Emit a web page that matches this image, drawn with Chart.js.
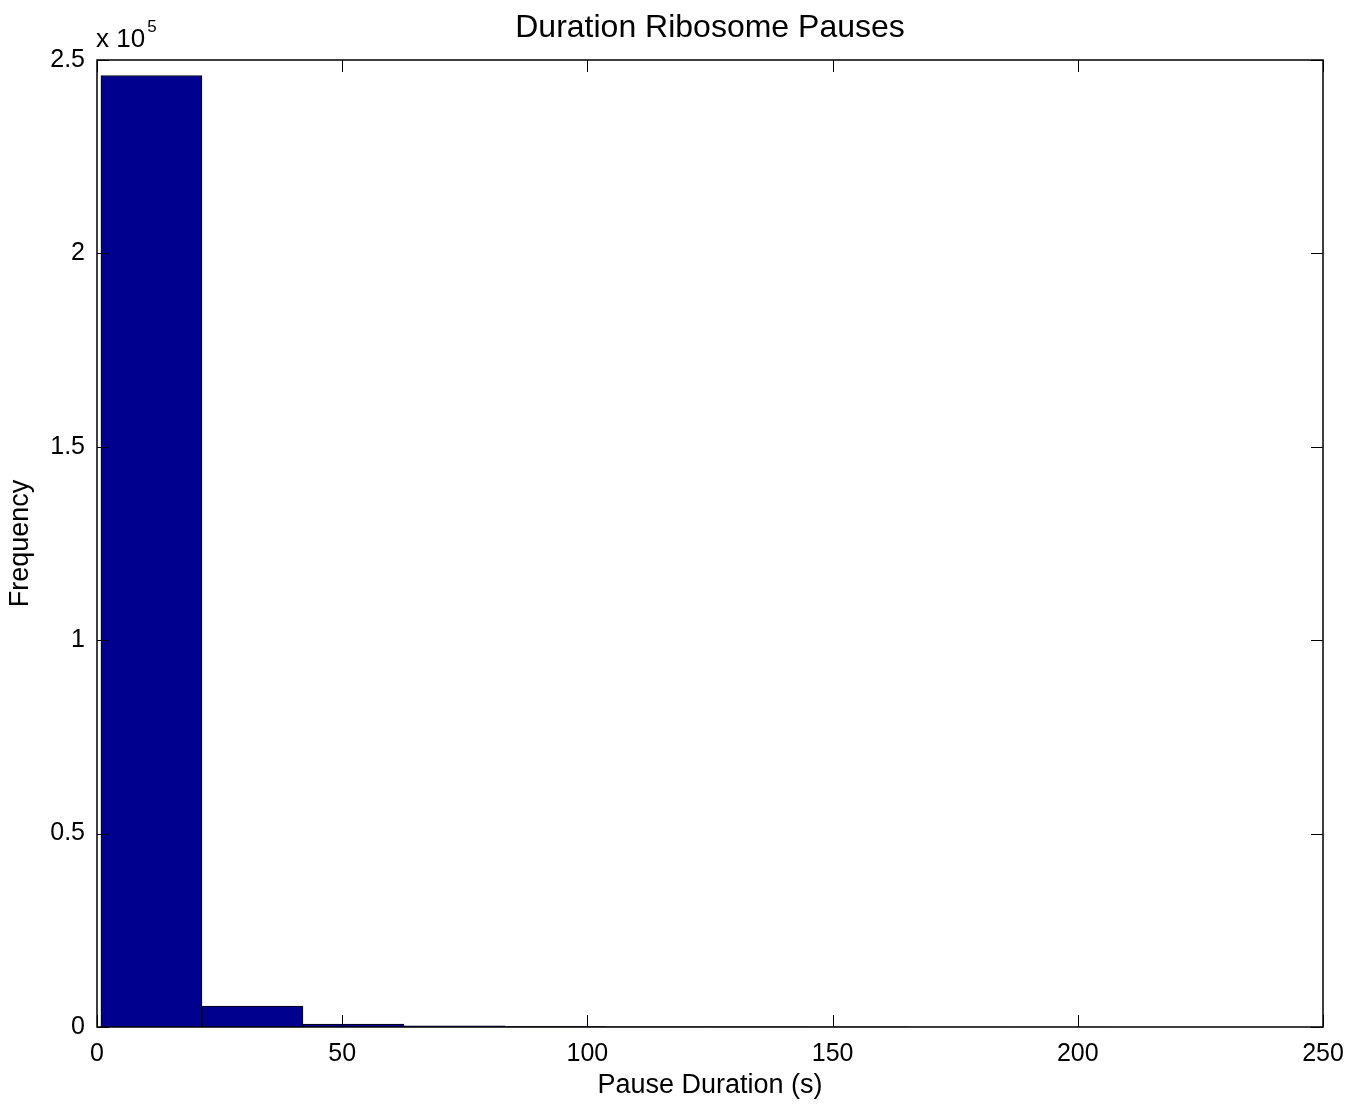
<!DOCTYPE html>
<html>
<head>
<meta charset="utf-8">
<script src="https://cdn.jsdelivr.net/npm/chart.js@4.4.1/dist/chart.umd.min.js"></script>
<style>
  html, body { margin: 0; padding: 0; background: #fff; }
  #wrap { width: 1367px; height: 1108px; }
</style>
</head>
<body>
<div id="wrap"><canvas id="myChart" width="1367" height="1108"></canvas></div>
<script>
// histogram bins (centres, seconds) and counts
var binCenters = [11.1, 31.7, 52.3, 72.9, 93.5, 114.1, 134.7, 155.3, 175.9, 196.5];
var counts = [246000, 5400, 780, 330, 110, 50, 25, 12, 6, 3];
var xTicks = [0, 50, 100, 150, 200, 250];
var yTicks = [0, 50000, 100000, 150000, 200000, 250000];

var font = "'Liberation Sans', Arial, Helvetica, sans-serif";

var points = [];
for (var i = 0; i < binCenters.length; i++) {
    points.push({ x: binCenters[i], y: counts[i] });
}

// box round the plot, inward ticks on all four sides, title and exponent
var matlabAxes = {
    id: 'matlabAxes',
    afterDraw: function (chart) {
        var c = chart.ctx;
        var a = chart.chartArea;
        var xs = chart.scales.x;
        var ys = chart.scales.y;
        var tl = 12;
        c.save();
        c.strokeStyle = '#000';
        c.lineWidth = 1.5;
        c.strokeRect(a.left, a.top, a.right - a.left, a.bottom - a.top);
        c.lineWidth = 1;
        c.beginPath();
        xTicks.forEach(function (v) {
            var px = Math.round(xs.getPixelForValue(v)) + 0.5;
            c.moveTo(px, a.bottom); c.lineTo(px, a.bottom - tl);
            c.moveTo(px, a.top); c.lineTo(px, a.top + tl);
        });
        yTicks.forEach(function (v) {
            var py = Math.round(ys.getPixelForValue(v)) + 0.5;
            c.moveTo(a.left, py); c.lineTo(a.left + tl, py);
            c.moveTo(a.right, py); c.lineTo(a.right - tl, py);
        });
        c.stroke();

        c.fillStyle = '#000';
        c.textBaseline = 'alphabetic';
        c.textAlign = 'center';
        c.font = '32px ' + font;
        c.fillText('Duration Ribosome Pauses', (a.left + a.right) / 2, 37);

        c.textAlign = 'left';
        c.font = '26px ' + font;
        c.fillText('x 10', a.left - 1, 47);
        var w = c.measureText('x 10').width;
        c.font = '17px ' + font;
        c.fillText('5', a.left - 1 + w + 2, 32);
        c.restore();
    }
};

var ctx = document.getElementById('myChart').getContext('2d');
var myChart = new Chart(ctx, {
    type: 'bar',
    data: {
        datasets: [{
            data: points,
            backgroundColor: '#00008f',
            borderColor: '#000',
            borderWidth: 1,
            barPercentage: 1,
            categoryPercentage: 1
        }]
    },
    options: {
        responsive: false,
        animation: false,
        layout: { padding: { left: 0, right: 44, top: 60, bottom: 0 } },
        plugins: {
            legend: { display: false },
            tooltip: { enabled: false }
        },
        scales: {
            x: {
                type: 'linear',
                min: 0,
                max: 250,
                offset: false,
                afterFit: function (s) { s.height = 81; },
                afterBuildTicks: function (s) {
                    s.ticks = xTicks.map(function (v) { return { value: v }; });
                },
                grid: { display: false, drawTicks: false, offset: false },
                border: { display: false },
                ticks: {
                    color: '#000',
                    font: { family: font, size: 25 },
                    padding: 12,
                    maxRotation: 0,
                    callback: function (v) { return v; }
                },
                title: {
                    display: true,
                    text: 'Pause Duration (s)',
                    color: '#000',
                    font: { family: font, size: 27 },
                    padding: { top: 0, bottom: 6 }
                }
            },
            y: {
                min: 0,
                max: 250000,
                afterFit: function (s) { s.width = 97; },
                afterBuildTicks: function (s) {
                    s.ticks = yTicks.map(function (v) { return { value: v }; });
                },
                grid: { display: false, drawTicks: false },
                border: { display: false },
                ticks: {
                    color: '#000',
                    font: { family: font, size: 25 },
                    padding: 12,
                    callback: function (v) { return v / 100000; }
                },
                title: {
                    display: true,
                    text: 'Frequency',
                    color: '#000',
                    font: { family: font, size: 27 },
                    padding: { top: 4, bottom: 0 }
                }
            }
        }
    },
    plugins: [matlabAxes]
});
</script>
</body>
</html>
